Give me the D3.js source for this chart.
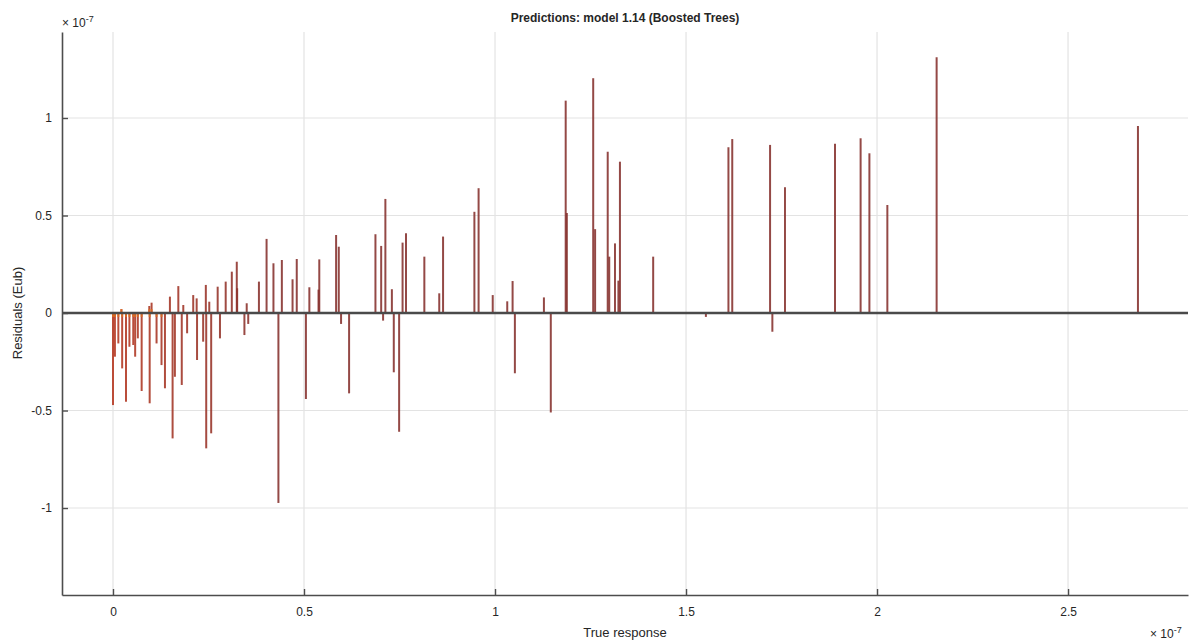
<!DOCTYPE html>
<html>
<head>
<meta charset="utf-8">
<script src="https://cdn.jsdelivr.net/npm/d3@7"></script>
<style>
  html, body { margin: 0; padding: 0; background: #fff; }
  svg text { font-family: "Liberation Sans", Arial, sans-serif; fill: #262626; }
</style>
</head>
<body>
<svg id="chart" width="1195" height="641"></svg>
<script>
// values in units of 1e-7
const trueResponse = [
  0.000, 0.005, 0.014, 0.022, 0.024, 0.034, 0.043, 0.053, 0.058, 0.065,
  0.075, 0.095, 0.096, 0.101, 0.114, 0.127, 0.136, 0.149, 0.156, 0.162,
  0.171, 0.180, 0.184, 0.194, 0.210, 0.219, 0.220, 0.236, 0.243, 0.244,
  0.252, 0.257, 0.274, 0.280, 0.295, 0.311, 0.324, 0.325, 0.344, 0.350,
  0.354, 0.382, 0.402, 0.420, 0.433, 0.442, 0.470, 0.481, 0.505, 0.514,
  0.538, 0.540, 0.584, 0.591, 0.597, 0.618, 0.687, 0.702, 0.707, 0.713,
  0.730, 0.735, 0.749, 0.758, 0.767, 0.815, 0.854, 0.864, 0.946, 0.957,
  0.994, 1.032, 1.046, 1.052, 1.128, 1.146, 1.185, 1.188, 1.257, 1.262,
  1.295, 1.299, 1.314, 1.323, 1.327, 1.414, 1.552, 1.611, 1.621, 1.720,
  1.726, 1.759, 1.890, 1.957, 1.980, 2.027, 2.156, 2.683
];
const residuals = [
  -0.472, -0.224, -0.156, 0.020, -0.284, -0.455, -0.173, -0.164, -0.224, -0.130,
  -0.400, 0.036, -0.463, 0.053, -0.156, -0.267, -0.386, 0.084, -0.643, -0.327,
  0.138, -0.369, 0.041, -0.104, 0.092, 0.075, -0.241, -0.147, 0.144, -0.694,
  0.058, -0.617, 0.135, -0.130, 0.161, 0.212, 0.263, 0.127, -0.113, 0.050,
  -0.056, 0.161, 0.380, 0.255, -0.974, 0.272, 0.173, 0.277, -0.441, 0.132,
  0.120, 0.275, 0.400, 0.340, -0.056, -0.412, 0.404, 0.344, -0.039, 0.585,
  0.122, -0.304, -0.609, 0.361, 0.409, 0.289, 0.101, 0.392, 0.519, 0.640,
  0.092, 0.060, 0.164, -0.309, 0.080, -0.510, 1.089, 0.513, 1.204, 0.430,
  0.827, 0.289, 0.357, 0.166, 0.776, 0.289, -0.020, 0.850, 0.892, 0.862,
  -0.096, 0.645, 0.868, 0.896, 0.819, 0.554, 1.311, 0.959
];
const xTicks = [0, 0.5, 1, 1.5, 2, 2.5];
const xTickLabels = ["0", "0.5", "1", "1.5", "2", "2.5"];
const yTicks = [-1, -0.5, 0, 0.5, 1];
const yTickLabels = ["-1", "-0.5", "0", "0.5", "1"];
const titleText = "Predictions: model 1.14 (Boosted Trees)";
const xLabel = "True response";
const yLabel = "Residuals (Eub)";

const points = trueResponse.map((t, i) => ({ t, r: residuals[i] }));

const svg = d3.select("#chart");
const width = 1195, height = 641;
const margin = { top: 32, right: 7, bottom: 46, left: 62 };

const x = d3.scaleLinear()
  .domain([-0.1335, 2.814])
  .range([margin.left, width - margin.right]);
const y = d3.scaleLinear()
  .domain([-1.446, 1.441])
  .range([height - margin.bottom, margin.top]);

// grid
const grid = svg.append("g").attr("stroke", "#e3e3e3").attr("stroke-width", 1.2);
grid.selectAll(".vx").data(xTicks).enter().append("line")
  .attr("x1", d => x(d)).attr("x2", d => x(d))
  .attr("y1", margin.top).attr("y2", height - margin.bottom);
grid.selectAll(".hy").data(yTicks).enter().append("line")
  .attr("x1", margin.left).attr("x2", width - margin.right)
  .attr("y1", d => y(d)).attr("y2", d => y(d));

// stems: redder in the dense low range, brown further right
const stemColor = d3.scaleLinear()
  .domain([0, 0.4])
  .range(["#b5361f", "#85302c"])
  .clamp(true);

svg.append("g").selectAll("line").data(points).enter().append("line")
  .attr("x1", d => x(d.t)).attr("x2", d => x(d.t))
  .attr("y1", y(0)).attr("y2", d => y(d.r))
  .attr("stroke", d => stemColor(d.t))
  .attr("stroke-opacity", 0.88)
  .attr("stroke-width", 2);

// orange bits near zero in the dense part
svg.append("g").selectAll("line").data(points.filter(d => d.t < 0.13)).enter().append("line")
  .attr("x1", d => x(d.t)).attr("x2", d => x(d.t))
  .attr("y1", y(0)).attr("y2", d => y(Math.sign(d.r) * Math.min(Math.abs(d.r), 0.02)))
  .attr("stroke", "#e0701f")
  .attr("stroke-opacity", 0.8)
  .attr("stroke-width", 2);

// zero line
svg.append("line")
  .attr("x1", margin.left).attr("x2", width - margin.right)
  .attr("y1", y(0)).attr("y2", y(0))
  .attr("stroke", "#4a4a4a")
  .attr("stroke-width", 2.5);

// axes (MATLAB style: ticks inward, no box)
const xAxis = svg.append("g")
  .attr("transform", `translate(0,${height - margin.bottom})`)
  .call(d3.axisBottom(x).tickValues(xTicks).tickSizeInner(-6).tickSizeOuter(0)
    .tickPadding(12).tickFormat((d, i) => xTickLabels[i]));
const yAxis = svg.append("g")
  .attr("transform", `translate(${margin.left},0)`)
  .call(d3.axisLeft(y).tickValues(yTicks).tickSizeInner(-6).tickSizeOuter(0)
    .tickPadding(10).tickFormat((d, i) => yTickLabels[i]));

[xAxis, yAxis].forEach(a => {
  a.select(".domain").attr("stroke", "#4d4d4d").attr("stroke-width", 1.6);
  a.selectAll(".tick line").attr("stroke", "#4d4d4d").attr("stroke-width", 1.4);
  a.selectAll(".tick text").attr("font-size", 12).attr("fill", "#1f1f1f")
    .attr("font-family", "Liberation Sans, Arial, sans-serif");
});

// title
svg.append("text")
  .attr("x", (margin.left + width - margin.right) / 2)
  .attr("y", 22)
  .attr("text-anchor", "middle")
  .attr("font-size", 12)
  .attr("font-weight", "bold")
  .text(titleText);

// axis labels
svg.append("text")
  .attr("x", (margin.left + width - margin.right) / 2)
  .attr("y", 637)
  .attr("text-anchor", "middle")
  .attr("font-size", 13)
  .text(xLabel);

svg.append("text")
  .attr("transform", `translate(22,${y(0)}) rotate(-90)`)
  .attr("text-anchor", "middle")
  .attr("font-size", 13)
  .text(yLabel);

// exponent labels
function expLabel(xPos, yPos) {
  const t = svg.append("text")
    .attr("x", xPos).attr("y", yPos)
    .attr("font-size", 12);
  t.append("tspan").text("\u00d7 10");
  t.append("tspan").attr("dy", -5).attr("font-size", 9).text("-7");
}
expLabel(62, 27);
expLabel(1150, 638);
</script>
</body>
</html>
